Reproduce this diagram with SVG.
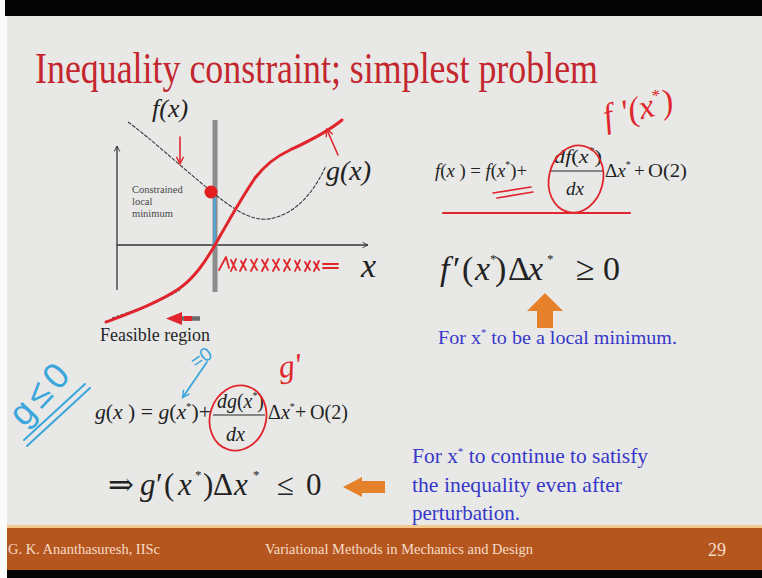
<svg xmlns="http://www.w3.org/2000/svg" width="762" height="578" viewBox="0 0 762 578">
<defs>
<style>
.serif{font-family:"Liberation Serif","DejaVu Serif",serif}
.it{font-style:italic}
.math{font-family:"Liberation Serif","DejaVu Serif",serif;fill:#222}
.blue{font-family:"Liberation Serif","DejaVu Serif",serif;fill:#3737c9}
.hand-red{fill:none;stroke:#e0262c;stroke-linecap:round;stroke-linejoin:round}
.hand-blue{fill:none;stroke:#3aa6dc;stroke-linecap:round;stroke-linejoin:round}
.axis{stroke:#333;stroke-width:1.3;fill:none}
.foot{font-family:"Liberation Serif","DejaVu Serif",serif;fill:#f6dcc6}
</style>
<marker id="axhead" viewBox="0 0 10 10" refX="9" refY="5" markerWidth="7" markerHeight="7" orient="auto" markerUnits="userSpaceOnUse">
<path d="M1,1 L9,5 L1,9" fill="none" stroke="#333" stroke-width="1.3"/>
</marker>
<marker id="redhead" viewBox="0 0 10 10" refX="8" refY="5" markerWidth="9" markerHeight="9" orient="auto" markerUnits="userSpaceOnUse">
<path d="M1,1 L9,5 L1,9" fill="none" stroke="#e0262c" stroke-width="1.6"/>
</marker>
<marker id="bluehead" viewBox="0 0 10 10" refX="8" refY="5" markerWidth="9" markerHeight="9" orient="auto" markerUnits="userSpaceOnUse">
<path d="M1,1 L9,5 L1,9" fill="none" stroke="#3aa6dc" stroke-width="1.6"/>
</marker>
</defs>

<!-- frame -->
<rect x="0" y="0" width="762" height="578" fill="#fbfbfb"/>
<rect x="7" y="16" width="755" height="511" fill="#e8e9e7"/>
<rect x="5" y="0" width="757" height="16" fill="#050505"/>
<rect x="7" y="525" width="755" height="3" fill="#f3c98e"/>
<rect x="7" y="528" width="755" height="42" fill="#b5561f"/>
<rect x="7" y="570" width="755" height="8" fill="#050505"/>

<!-- title -->
<text class="serif" x="35" y="83" font-size="45" fill="#c4262e" textLength="563" lengthAdjust="spacingAndGlyphs">Inequality constraint; simplest problem</text>

<!-- graph -->
<g id="graph">
<line class="axis" x1="117" y1="290" x2="117" y2="146" marker-end="url(#axhead)"/>
<line class="axis" x1="117" y1="245" x2="368" y2="245" marker-end="url(#axhead)"/>
<rect x="212.5" y="120" width="5" height="172" fill="#8c8c8c"/>
<line x1="214.5" y1="193" x2="214.5" y2="246" stroke="#45a7dc" stroke-width="2.2"/>
<path d="M128,122 C150,138 178,164 212,192 C232,208 250,221 268,219 C290,216 310,200 326,166" fill="none" stroke="#3a3a3a" stroke-width="1.1" stroke-dasharray="4 1.2"/>
<path d="M112,318 C135,310 160,302 180,290" fill="none" stroke="#333" stroke-width="1" stroke-dasharray="3 1.5"/>
<path class="hand-red" stroke-width="3" d="M106,322 C130,313 160,302 180,288 C195,277 205,262 215,245 C228,222 240,200 255,178 C265,165 275,157 290,150 C305,143 325,134 342,120"/>
<circle cx="211" cy="192" r="6.5" fill="#e3201f"/>
<text class="math it" x="152" y="117" font-size="26">f(x)</text>
<text class="math it" x="326" y="180" font-size="28">g(x)</text>
<text class="math it" x="361" y="277" font-size="34">x</text>
<text class="serif" font-size="10.5" fill="#474747">
<tspan x="132" y="193">Constrained</tspan>
<tspan x="132" y="205">local</tspan>
<tspan x="132" y="217">minimum</tspan>
</text>
<text class="serif" x="100" y="341" font-size="19" fill="#262626" textLength="110" lengthAdjust="spacingAndGlyphs">Feasible region</text>
</g>

<!-- annotation arrows -->
<g id="connectors">
<line class="hand-red" stroke-width="1.6" x1="180" y1="137" x2="180" y2="163" marker-end="url(#redhead)"/>
<line class="hand-red" stroke-width="1.6" x1="338" y1="155" x2="327" y2="130" marker-end="url(#redhead)"/>
<line x1="200" y1="318.5" x2="182" y2="318.5" stroke="#6a6a6a" stroke-width="4.5"/>
<path d="M182,312 L166,318.5 L182,325 Z" fill="#e0262c"/>
<line x1="184" y1="318.5" x2="192" y2="318.5" stroke="#e0262c" stroke-width="5"/>
<line class="hand-blue" stroke-width="1.8" x1="207" y1="362" x2="183" y2="397" marker-end="url(#bluehead)"/>
<polygon points="545,293 563,311 553,311 553,328 537,328 537,311 527,311" fill="#e5812a"/>
<polygon points="343,487 362,477 362,481 385,481 385,493 362,493 362,497" fill="#e5812a"/>
</g>

<!-- infeasible crosses -->
<path class="hand-red" stroke-width="1.8" d="M219,270 L226,257 L229,268 M231,260 L236,270 M236,259 L231,271 M241,261 L246,270 M246,259 L240,271 M251,260 L257,270 M257,259 L251,271 M262,260 L268,270 M268,259 L262,271 M273,260 L279,270 M279,259 L273,271 M284,260 L290,270 M290,259 L284,271 M295,261 L300,270 M300,260 L295,271 M305,262 L310,270 M310,261 L305,271 M314,262 L319,270 M319,261 L314,271 M323,264 L338,264 M323,268 L338,268"/>

<!-- f formula -->
<g id="f-formula">
<text class="math" x="435" y="177" font-size="19" textLength="92" lengthAdjust="spacingAndGlyphs"><tspan class="it">f</tspan>(<tspan class="it">x</tspan> ) = <tspan class="it">f</tspan>(<tspan class="it">x</tspan><tspan dy="-9" font-size="10">*</tspan><tspan dy="9">)+</tspan></text>
<text class="math" x="554" y="163" font-size="19" textLength="48" lengthAdjust="spacingAndGlyphs"><tspan class="it">df</tspan>(<tspan class="it">x</tspan><tspan dy="-9" font-size="10">*</tspan><tspan dy="9">)</tspan></text>
<text class="math it" x="566" y="195" font-size="19">dx</text>
<text class="math" x="605" y="177" font-size="19">Δ<tspan class="it">x</tspan><tspan dy="-9" font-size="10">*</tspan></text>
<text class="math" x="634" y="177" font-size="19">+</text>
<text class="math" x="648" y="177" font-size="19" textLength="39" lengthAdjust="spacingAndGlyphs">O(2)</text>
<line x1="551" y1="171" x2="603" y2="171" stroke="#222" stroke-width="1"/>
<path class="hand-red" stroke-width="1.6" d="M493,193 L531,187 M497,198 L533,192"/>
<line class="hand-red" stroke-width="2" x1="443" y1="213" x2="630" y2="213"/>
<ellipse class="hand-red" stroke-width="1.8" cx="576" cy="179" rx="27" ry="34" transform="rotate(14 576 179)"/>
<text class="it" x="0" y="0" font-family="Liberation Serif, DejaVu Serif, serif" font-size="34" fill="#e0262c" transform="translate(606,128) rotate(-14)">f '(x<tspan dy="-14" font-size="17">*</tspan><tspan dy="14">)</tspan></text>
</g>

<!-- f' inequality -->
<g id="f-ineq">
<text class="math" font-size="34">
<tspan x="440" y="280" class="it">f</tspan>
<tspan x="453" y="280">′</tspan>
<tspan x="462" y="280">(</tspan>
<tspan x="475" y="280" class="it">x</tspan>
<tspan x="490" y="263" font-size="13">*</tspan>
<tspan x="495" y="280">)</tspan>
<tspan x="508" y="280">Δ</tspan>
<tspan x="528" y="280" class="it">x</tspan>
<tspan x="547" y="263" font-size="13">*</tspan>
<tspan x="576" y="280">≥</tspan>
<tspan x="603" y="280">0</tspan>
</text>
<text class="blue" x="438" y="344" font-size="19" textLength="239" lengthAdjust="spacingAndGlyphs">For x<tspan dy="-8" font-size="10">*</tspan><tspan dy="8"> to be a local minimum.</tspan></text>
</g>

<!-- g annotations -->
<g id="g-annotations">
<text font-family="Liberation Sans, DejaVu Sans, sans-serif" font-size="36" letter-spacing="5" fill="#3aa6dc" transform="translate(24,428) rotate(-47)">g≤0</text>
<line class="hand-blue" stroke-width="2" x1="27" y1="446" x2="90" y2="388"/>
<line class="hand-blue" stroke-width="2" x1="24" y1="440" x2="85" y2="384"/>
<text font-family="Liberation Sans, DejaVu Sans, sans-serif" font-size="19" fill="#3aa6dc" transform="translate(196,369) rotate(-35)">=0</text>
<text class="it" font-family="Liberation Serif, DejaVu Serif, serif" font-size="32" fill="#e0262c" transform="translate(280,378) rotate(-8)">g'</text>
</g>

<!-- g formula -->
<g id="g-formula">
<text class="math" x="95" y="419" font-size="20" textLength="116" lengthAdjust="spacingAndGlyphs"><tspan class="it">g</tspan>(<tspan class="it">x</tspan> ) = <tspan class="it">g</tspan>(<tspan class="it">x</tspan><tspan dy="-9" font-size="10">*</tspan><tspan dy="9">)+</tspan></text>
<text class="math" x="217" y="408" font-size="20" textLength="47" lengthAdjust="spacingAndGlyphs"><tspan class="it">dg</tspan>(<tspan class="it">x</tspan><tspan dy="-9" font-size="10">*</tspan><tspan dy="9">)</tspan></text>
<text class="math it" x="226" y="441" font-size="20">dx</text>
<text class="math" x="268" y="419" font-size="20">Δ<tspan class="it">x</tspan><tspan dy="-9" font-size="10">*</tspan></text>
<text class="math" x="295" y="419" font-size="20">+</text>
<text class="math" x="310" y="419" font-size="20" textLength="38" lengthAdjust="spacingAndGlyphs">O(2)</text>
<line x1="213" y1="415" x2="265" y2="415" stroke="#222" stroke-width="1"/>
<ellipse class="hand-red" stroke-width="1.8" cx="238" cy="418" rx="28" ry="33" transform="rotate(18 238 418)"/>
</g>

<!-- g' inequality -->
<g id="g-ineq">
<text class="math" font-size="31">
<tspan x="108" y="495">⇒</tspan>
<tspan x="140" y="495" class="it">g</tspan>
<tspan x="156" y="495">′</tspan>
<tspan x="164" y="495">(</tspan>
<tspan x="178" y="495" class="it">x</tspan>
<tspan x="195" y="479" font-size="13">*</tspan>
<tspan x="203" y="495">)</tspan>
<tspan x="213" y="495">Δ</tspan>
<tspan x="234" y="495" class="it">x</tspan>
<tspan x="253" y="479" font-size="13">*</tspan>
<tspan x="277" y="495">≤</tspan>
<tspan x="306" y="495">0</tspan>
</text>
<text class="blue" font-size="21">
<tspan x="412" y="463" textLength="236" lengthAdjust="spacingAndGlyphs">For x<tspan dy="-8" font-size="11">*</tspan><tspan dy="8"> to continue to satisfy</tspan></tspan>
<tspan x="412" y="492" textLength="210" lengthAdjust="spacingAndGlyphs">the inequality even after</tspan>
<tspan x="412" y="520">perturbation.</tspan>
</text>
</g>

<!-- footer -->
<g id="footer">
<text class="foot" x="8" y="554" font-size="14" textLength="152" lengthAdjust="spacingAndGlyphs">G. K. Ananthasuresh, IISc</text>
<text class="foot" x="265" y="554" font-size="14" textLength="268" lengthAdjust="spacingAndGlyphs">Variational Methods in Mechanics and Design</text>
<text class="foot" x="708" y="556" font-size="18">29</text>
</g>
</svg>
